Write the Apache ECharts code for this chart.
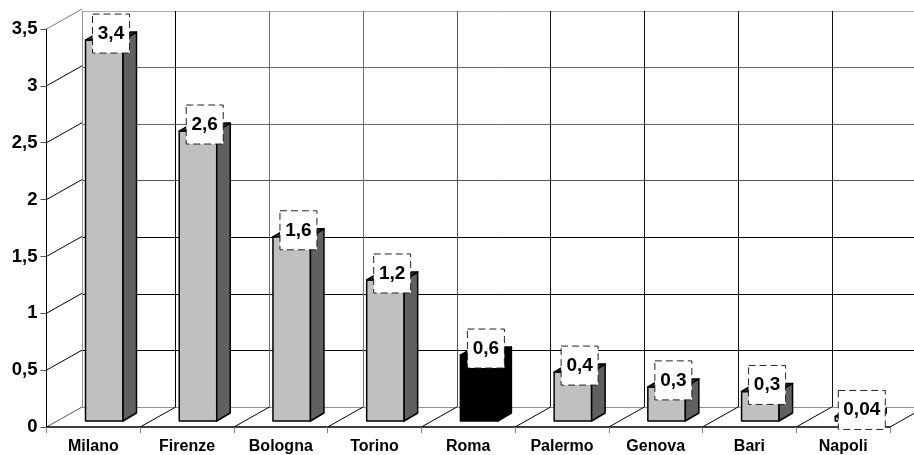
<!DOCTYPE html>
<html><head><meta charset="utf-8">
<style>html,body{margin:0;padding:0;background:#fff}#c{width:914px;height:455px}</style>
<script src="https://cdn.jsdelivr.net/npm/echarts@6/dist/echarts.min.js"></script>
</head><body><div id="c"></div>
<script>
const categories = ['Milano','Firenze','Bologna','Torino','Roma','Palermo','Genova','Bari','Napoli'];
const values = [3.35,2.55,1.62,1.24,0.58,0.43,0.30,0.26,0.04];
const labels = ['3,4','2,6','1,6','1,2','0,6','0,4','0,3','0,3','0,04'];
const yTicks = [0,0.5,1,1.5,2,2.5,3,3.5];

const DX = 35.5, DY = -20;      // wall offset from the front plane
const FX = 10.9, FY = -6;       // bar front-face offset
const BW = 37.5, SX = 13.5, SY = -8; // bar width, bar depth
const font = '"Liberation Sans", Arial, sans-serif';
const chart = echarts.init(document.getElementById('c'), null, {renderer:'canvas'});

function renderDiagY(params, api){
  const v = api.value(0), p = api.coord([0, v]);
  const x = p[0] - api.size([1,0])[0]/2;
  return {type:'line', silent:true, shape:{x1:x,y1:p[1],x2:x+DX,y2:p[1]+DY},
    style:{stroke:(v===0||v===3.5)?'#808080':'#000',lineWidth:1}};
}
function renderDiagX(params, api){
  const i = api.value(0), p = api.coord([i, 0]);
  const x = p[0] - api.size([1,0])[0]/2;
  return {type:'line', silent:true, shape:{x1:x,y1:p[1],x2:x+DX,y2:p[1]+DY},
    style:{stroke:i===0?'#808080':'#000',lineWidth:1}};
}
function renderBar(params, api){
  const i = api.value(0), v = api.value(1);
  const top = api.coord([i, v]), base = api.coord([i, 0]);
  const cx = top[0];
  const l = cx + FX - BW/2, r = l + BW, t = top[1] + FY, b = base[1] + FY;
  const black = categories[i] === 'Roma';
  const line = {stroke:'#000', lineWidth:1.5, lineJoin:'round'};
  const txt = labels[i];
  const w = txt.length > 3 ? 47 : 37, h = 39;
  const bx = r + SX/2 - BW/2 - w/2 + (txt.length>3?1:0), by = t - 26;
  return {type:'group', children:[
    {type:'polygon', shape:{points:[[l,t],[r,t],[r,b],[l,b]]}, style:{fill:black?'#000':'#C0C0C0',...line}},
    {type:'polygon', shape:{points:[[r,t],[r+SX,t+SY],[r+SX,b+SY],[r,b]]}, style:{fill:black?'#000':'#606060',...line}},
    {type:'polygon', shape:{points:[[l,t],[l+SX,t+SY],[r+SX,t+SY],[r,t]]}, style:{fill:black?'#000':'#303030',...line}},
    {type:'rect', shape:{x:bx,y:by,width:w,height:h}, style:{fill:'#fff',stroke:'#222',lineWidth:1,lineDash:[7,4]}},
    {type:'text', style:{x:bx+w/2,y:by+h/2,text:txt,align:'center',verticalAlign:'middle',
      fill:'#000',font:'bold 19px '+font}}
  ]};
}

chart.setOption({
  animation:false,
  backgroundColor:'#fff',
  grid:[
    {left:46.5, top:29, width:843.5, height:398, outerBoundsMode:'none'},
    {left:82, top:11, width:843.5, height:396, outerBoundsMode:'none'}
  ],
  xAxis:[
    {type:'category', gridIndex:0, data:categories, boundaryGap:true,
      axisLine:{show:true,lineStyle:{color:'#000',width:1.5}},
      axisTick:{show:true,length:6,interval:0,lineStyle:{color:'#808080'}},
      axisLabel:{interval:0,color:'#000',fontFamily:font,fontWeight:'bold',fontSize:16,margin:12},
      splitLine:{show:false}, z:5},
    {type:'category', gridIndex:1, data:categories, boundaryGap:true,
      axisLine:{show:false},axisTick:{show:false},axisLabel:{show:false},
      splitLine:{show:true,interval:0,lineStyle:{color:['#909090','#000','#707070','#707070','#555','#111','#111','#111','#111','#111'],width:1}}}
  ],
  yAxis:[
    {type:'value', gridIndex:0, min:0, max:3.5, interval:0.5,
      axisLine:{show:true,lineStyle:{color:'#000',width:1}},
      axisTick:{show:true,length:6,lineStyle:{color:'#555'}},
      axisLabel:{color:'#000',fontFamily:font,fontWeight:'bold',fontSize:18.5,margin:9,padding:[4,0,0,0],
        formatter:v=>String(v).replace('.',',')},
      splitLine:{show:false}, z:5},
    {type:'value', gridIndex:1, min:0, max:3.5, interval:0.5,
      axisLine:{show:false},axisTick:{show:false},axisLabel:{show:false},
      splitLine:{show:true,lineStyle:{color:['#909090','#000','#000','#000','#555','#666','#666','#aaa'],width:1}}}
  ],
  series:[
    {type:'custom', name:'yDiag', xAxisIndex:0, yAxisIndex:0, silent:true, clip:false, z:3,
      data:yTicks.map(v=>[v]), encode:{y:0}, renderItem:renderDiagY},
    {type:'custom', name:'xDiag', xAxisIndex:0, yAxisIndex:0, silent:true, clip:false, z:3,
      data:categories.map((c,i)=>[i]).concat([[9]]), encode:{x:0}, renderItem:renderDiagX},
    {type:'custom', name:'bars', xAxisIndex:0, yAxisIndex:0, silent:true, clip:false, z:6,
      data:values.map((v,i)=>[i,v]), encode:{x:0,y:1}, renderItem:renderBar}
  ]
});
</script></body></html>
